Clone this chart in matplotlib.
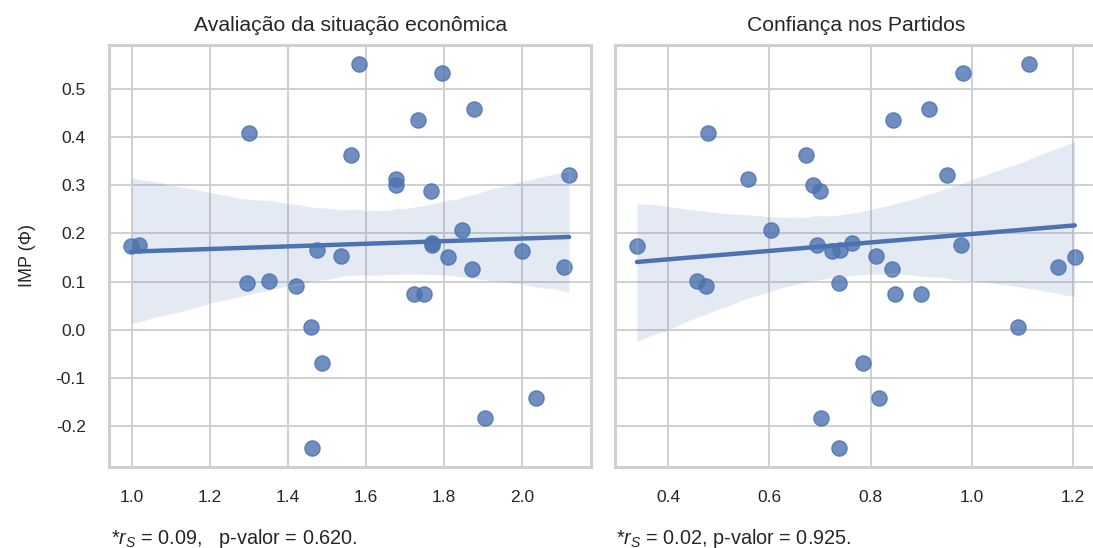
import matplotlib
matplotlib.use("Agg")
import matplotlib.pyplot as plt
import seaborn as sns

# IMP (Phi) per case, with the two predictors
imp = [0.552, 0.534, 0.458, 0.435, 0.408, 0.363, 0.321, 0.314, 0.301, 0.288,
       0.208, 0.181, 0.177, 0.175, 0.173, 0.165, 0.163, 0.154, 0.151, 0.131,
       0.127, 0.101, 0.097, 0.090, 0.074, 0.074, 0.005, -0.070, -0.142, -0.184,
       -0.245]
aval_econ = [1.581, 1.795, 1.878, 1.733, 1.300, 1.561, 2.121, 1.677, 1.677, 1.766,
             1.846, 1.770, 1.017, 1.770, 0.998, 1.475, 2.000, 1.537, 1.810, 2.107,
             1.873, 1.351, 1.294, 1.420, 1.722, 1.748, 1.459, 1.487, 2.035, 1.906,
             1.462]
conf_partidos = [1.113, 0.983, 0.915, 0.845, 0.479, 0.673, 0.951, 0.558, 0.687, 0.701,
                 0.604, 0.764, 0.694, 0.979, 0.338, 0.739, 0.723, 0.811, 1.204, 1.170,
                 0.842, 0.456, 0.737, 0.475, 0.849, 0.900, 1.091, 0.785, 0.817, 0.702,
                 0.738]

titles = ["Avaliação da situação econômica", "Confiança nos Partidos"]
notas = [r"*$r_S$ = 0.09,   p-valor = 0.620.", r"*$r_S$ = 0.02, p-valor = 0.925."]

sns.set_theme(style="whitegrid")
plt.rcParams["font.family"] = ["Liberation Sans", "DejaVu Sans"]
plt.rcParams["mathtext.fontset"] = "custom"
plt.rcParams["mathtext.it"] = "Liberation Sans:italic"
plt.rcParams["mathtext.rm"] = "Liberation Sans"
plt.rcParams["axes.unicode_minus"] = False

fig = plt.figure(figsize=(10.93, 5.48), dpi=100)
ax1 = fig.add_axes([0.1, 0.1484, 0.4407, 0.7695])
ax2 = fig.add_axes([0.5627, 0.1484, 0.4407, 0.7695], sharey=ax1)

for ax, x, title, nota in zip([ax1, ax2], [aval_econ, conf_partidos], titles, notas):
    sns.regplot(x=x, y=imp, ax=ax, color="#4C72B0", seed=3,
                scatter_kws={"s": 120, "linewidths": 1},
                line_kws={"linewidth": 3.2})
    ax.set_title(title, fontsize=15.2, color="#262626", pad=10)
    ax.tick_params(axis="both", labelsize=12.5, colors="#262626", pad=17, length=0)
    ax.grid(True, color="#d0d0d0", linewidth=1.4)
    for s in ax.spines.values():
        s.set_color("#d0d0d0")
        s.set_linewidth(2.2)
    ax.text(0.003, -0.17, nota, transform=ax.transAxes, fontsize=14.3,
            color="#262626", va="center", ha="left")

ax1.set_ylabel("IMP (Φ)", fontsize=13, color="#262626", labelpad=14)
plt.setp(ax2.get_yticklabels(), visible=False)

fig.savefig("out.png", dpi=100)
